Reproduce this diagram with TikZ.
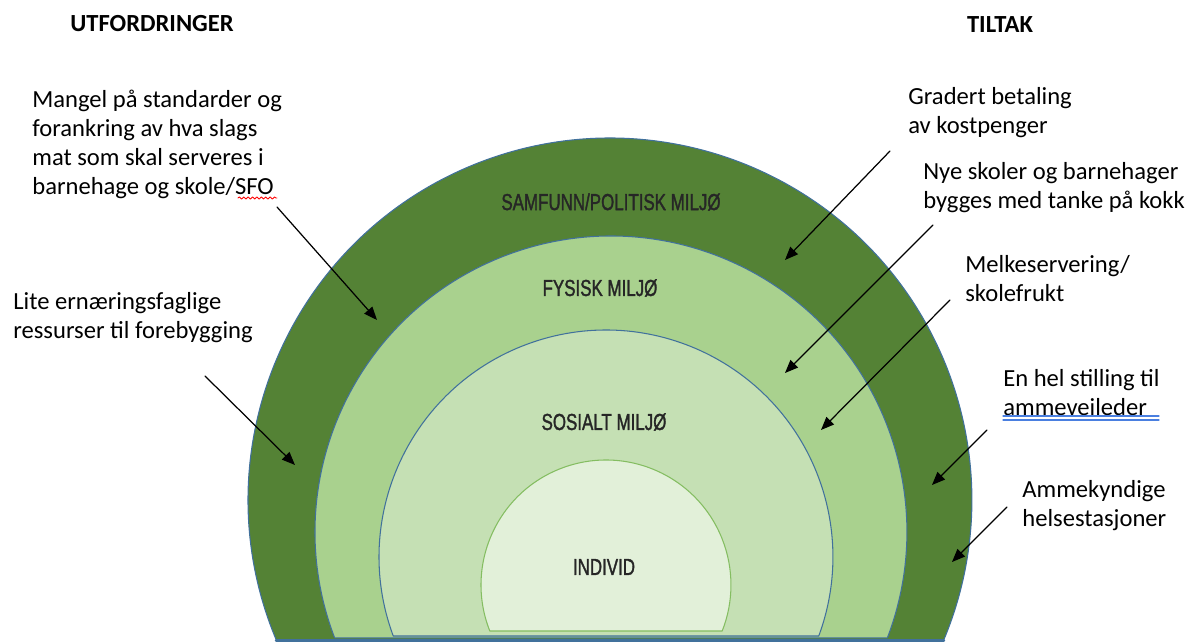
\documentclass[tikz,border=0pt]{standalone}
\usepackage{fontspec}
\setmainfont{Carlito}
\newfontfamily\ringfont[FakeStretch=0.73,FakeBold=1.4]{Liberation Sans}
\usetikzlibrary{arrows.meta,decorations.pathmorphing}
\definecolor{ringdark}{HTML}{548235}
\definecolor{ringmid}{HTML}{A9D18E}
\definecolor{ringlight}{HTML}{C5E0B4}
\definecolor{ringpale}{HTML}{E2F0D9}
\definecolor{ringline}{HTML}{41719C}
\definecolor{paleline}{HTML}{84BD61}
\definecolor{spellblue}{HTML}{4A7FE0}
\begin{document}
\begin{tikzpicture}[x=0.02cm, y=0.02cm, >={Triangle[length=7.5pt,width=6pt]}, line join=round, line cap=round,
	ring/.style={draw=ringline, line width=0.6pt},
	tag/.style={font=\ringfont\fontsize{13.2}{15}\selectfont, text=black!85},
	note/.style={align=left, anchor=north west, inner sep=0pt, font=\fontsize{14}{16.4}\selectfont},
	head/.style={font=\bfseries\fontsize{14}{16}\selectfont},
	pointer/.style={->, line width=0.7pt}]
			\useasboundingbox (0,0) rectangle (1198,642);
			\filldraw[ring, fill=ringdark] (610,142) ++(202.75:7.24cm) arc[start angle=202.75, end angle=-22.75, radius=7.24cm] -- cycle;
			\filldraw[ring, fill=ringmid] (611,110) ++(200.98:5.92cm) arc[start angle=200.98, end angle=-20.98, radius=5.92cm] -- cycle;
			\filldraw[ring, fill=ringlight] (606,85) ++(200.37:4.54cm) arc[start angle=200.37, end angle=-20.37, radius=4.54cm] -- cycle;
			\filldraw[ring, draw=paleline, fill=ringpale] (606,57) ++(201.6:2.5cm) arc[start angle=201.6, end angle=-21.6, radius=2.5cm] -- cycle;
			\draw[ringline, line width=1.4pt] (276,1.5) -- (944,1.5);
			\node[tag] (samfunn) at (611,440) {SAMFUNN/POLITISK MILJØ};
			\node[tag] (fysisk) at (600,354) {FYSISK MILJØ};
			\node[tag] (sosialt) at (604,220) {SOSIALT MILJØ};
			\node[tag] (individ) at (604,75) {INDIVID};
			\node[head] (utfordringer) at (152,618) {UTFORDRINGER};
			\node[head] (tiltak) at (1000,617) {TILTAK};
			\node[note] (mangel) at (32,552) {Mangel på standarder og\\forankring av hva slags\\mat som skal serveres i\\barnehage og skole/SFO};
			\node[note] (lite) at (13,350) {Lite ernæringsfaglige\\ressurser til forebygging};
			\node[note] (gradert) at (908,555) {Gradert betaling\\av kostpenger};
			\node[note] (nye) at (923,480) {Nye skoler og barnehager\\bygges med tanke på kokk};
			\node[note] (melk) at (965,387) {Melkeservering/\\skolefrukt};
			\node[note] (enhel) at (1003,273) {En hel stilling til\\ammeveileder};
			\node[note] (ammek) at (1022,162) {Ammekyndige\\helsestasjoner};
			\coordinate (mangel-a) at (277,435); \coordinate (mangel-b) at (377,322);
			\coordinate (lite-a) at (205,266); \coordinate (lite-b) at (295,177);
			\coordinate (gradert-a) at (890,491); \coordinate (gradert-b) at (785,382);
			\coordinate (nye-a) at (933,417); \coordinate (nye-b) at (785,269);
			\coordinate (melk-a) at (950,342); \coordinate (melk-b) at (821,212);
			\coordinate (enhel-a) at (987,212); \coordinate (enhel-b) at (932,157);
			\coordinate (ammek-a) at (1007,135); \coordinate (ammek-b) at (952,80);
			\draw[pointer] (mangel-a) -- (mangel-b);
			\draw[pointer] (lite-a) -- (lite-b);
			\draw[pointer] (gradert-a) -- (gradert-b);
			\draw[pointer] (nye-a) -- (nye-b);
			\draw[pointer] (melk-a) -- (melk-b);
			\draw[pointer] (enhel-a) -- (enhel-b);
			\draw[pointer] (ammek-a) -- (ammek-b);
			\draw[red, line width=0.5pt, decorate, decoration={snake, amplitude=0.6pt, segment length=2.5pt}] (238,444) -- (277,444);
			\draw[spellblue, line width=0.6pt] (1003,226) -- (1159,226) (1003,222) -- (1159,222);
		\end{tikzpicture}
\end{document}
